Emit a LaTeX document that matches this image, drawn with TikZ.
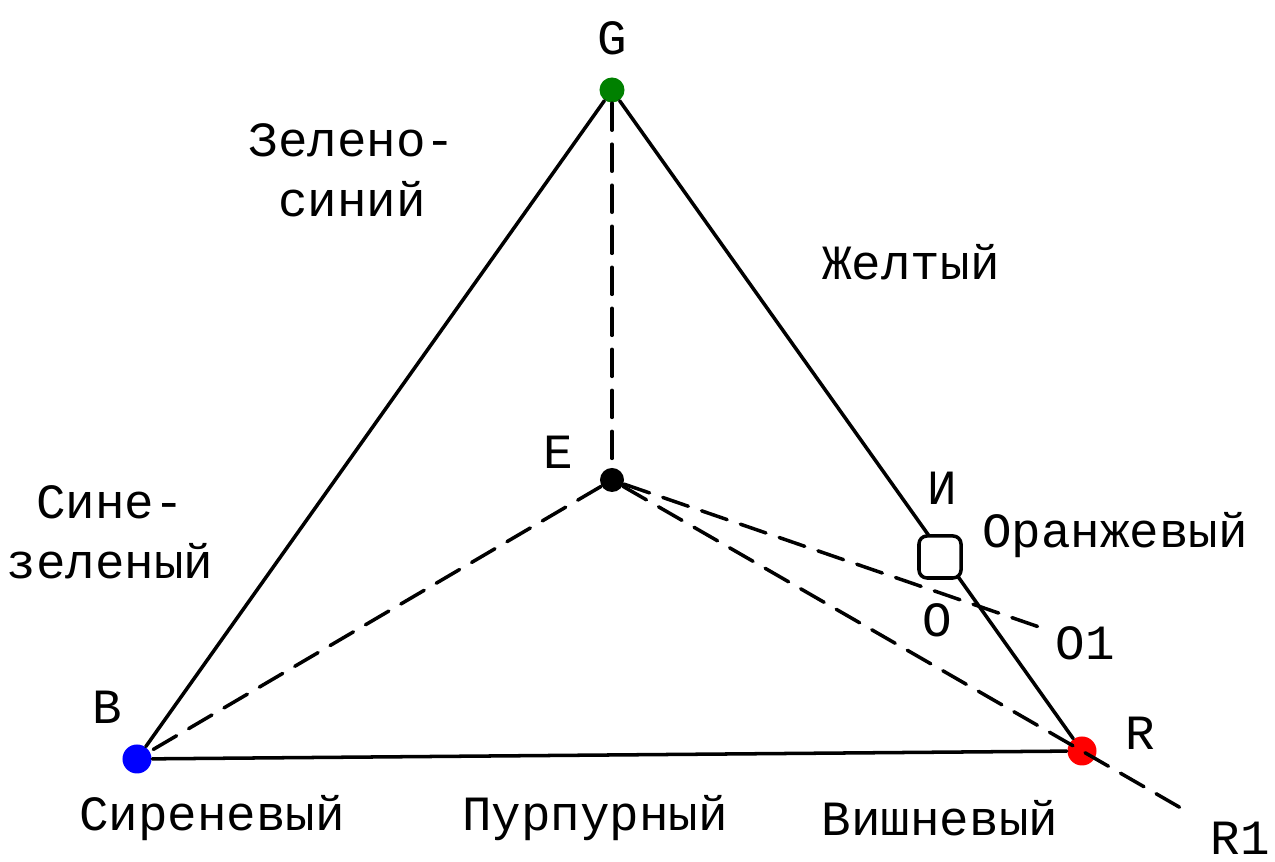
\documentclass[tikz,border=0pt]{standalone}
\usepackage{fontspec}
\setmainfont{Liberation Mono}
\usetikzlibrary{calc}

\begin{document}
\begin{tikzpicture}[x=0.01cm, y=-0.01cm, line join=round, line cap=round,
		dot/.style={circle, fill=#1, inner sep=0pt, minimum size=0.29cm},
		side/.style={line width=1pt},
		guide/.style={line width=1pt, dash pattern=on 0.27cm off 0.14cm},
		lbl/.style={font=\fontsize{14}{17}\selectfont, inner sep=1pt, align=center}]
		
		% Frame of the picture
		\useasboundingbox (0,0) rectangle (1275,862);
		
		% 1. Primaries and white point
		\node[dot=green!50!black, minimum size=0.25cm] (G) at (612,90) {};
		\node[dot=blue] (B) at (137,759) {};
		\node[dot=red] (R) at (1082,751) {};
		\node[dot=black, minimum size=0.24cm] (E) at (612,480) {};
		
		% 2. Sides of the triangle
		\draw[side] (G) -- (B);
		\draw[side] (B) -- (R);
		\draw[side] (G) -- (R);
		
		% 3. Dashed rays from the white point
		\coordinate (R1end) at ($(E)!1.22!(R)$);
		\coordinate (O1end) at (1042,628);
		\draw[guide] (G) -- (E);
		\draw[guide] (E) -- (B);
		\draw[guide] (E) -- (R1end);
		\draw[guide] (E) -- (O1end);
		
		% Marker O on the side GR
		\node[draw, fill=white, line width=1pt, rounded corners=0.08cm,
		minimum size=0.42cm, inner sep=0pt] (O) at (940,557) {};
		
		% 4. Point labels
		\node[lbl] (labG) at (612,38) {G};
		\node[lbl] (labE) at (558,452) {E};
		\node[lbl] (labI) at (942,488) {И};
		\node[lbl] (labO) at (937,620) {O};
		\node[lbl] (labO1) at (1085,643) {O1};
		\node[lbl] (labB) at (107,707) {B};
		\node[lbl] (labR) at (1140,733) {R};
		\node[lbl] (labR1) at (1240,838) {R1};
		
		% 5. Colour names
		\node[lbl] (gb) at (352,170) {Зелено-\\синий};
		\node[lbl] (yel) at (911,262) {Желтый};
		\node[lbl] (org) at (1115,535) {Оранжевый};
		\node[lbl] (bg) at (110,532) {Сине-\\зеленый};
		\node[lbl] (lil) at (212,818) {Сиреневый};
		\node[lbl] (pur) at (595,818) {Пурпурный};
		\node[lbl] (che) at (940,818) {Вишневый};
		
	\end{tikzpicture}
\end{document}
